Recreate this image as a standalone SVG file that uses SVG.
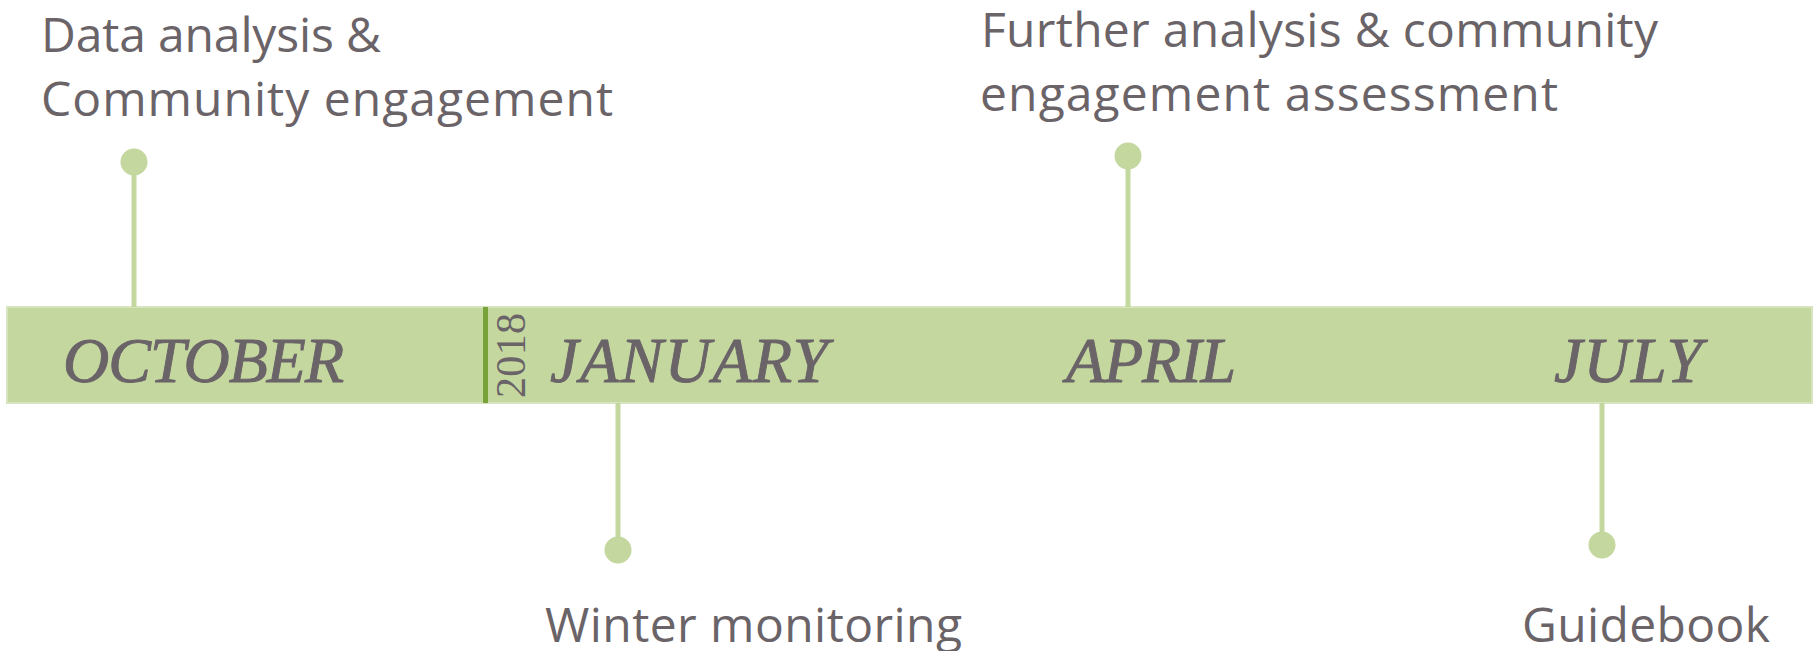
<svg xmlns="http://www.w3.org/2000/svg" width="1817" height="651" viewBox="0 0 1817 651">
<style>
.lbl{font-family:"Open Sans","Liberation Sans",sans-serif;font-size:48px;fill:#6a6368}
.mon{font-family:"Liberation Serif",serif;font-style:italic;font-size:64px;fill:#6a6368;stroke:#6a6368;stroke-width:0.9}
.yr{font-family:"Liberation Serif",serif;font-size:42px;fill:#6a6368}
.stem{stroke:#c4d79f;stroke-width:5;fill:none}
.dot{fill:#c4d79f}
</style>
<rect width="1817" height="651" fill="#ffffff"/>
<g id="bar">
<rect x="7" y="307" width="1805" height="96" fill="#c4d79f" stroke="#d6e4bf" stroke-width="2"/>
<rect x="483" y="307" width="5" height="96" fill="#77a33a"/>
<text class="yr" transform="translate(525,398) rotate(-90)" textLength="85">2018</text>
<text class="mon" x="63" y="382" textLength="281">OCTOBER</text>
<text class="mon" x="550" y="382" textLength="278">JANUARY</text>
<text class="mon" x="1066" y="382" textLength="170">APRIL</text>
<text class="mon" x="1554" y="382" textLength="148">JULY</text>
</g>
<g id="connectors">
<line class="stem" x1="134" y1="162" x2="134" y2="307"/>
<line class="stem" x1="618" y1="403" x2="618" y2="550"/>
<line class="stem" x1="1128" y1="156" x2="1128" y2="307"/>
<line class="stem" x1="1602" y1="403" x2="1602" y2="545"/>
</g>
<g id="node-oct">
<circle class="dot" cx="134" cy="162" r="13.5"/>
<text class="lbl" x="41" y="52" textLength="340">Data analysis &amp;</text>
<text class="lbl" x="41" y="116" textLength="572">Community engagement</text>
</g>
<g id="node-jan">
<circle class="dot" cx="618" cy="550" r="13.5"/>
<text class="lbl" x="545" y="642" textLength="417">Winter monitoring</text>
</g>
<g id="node-apr">
<circle class="dot" cx="1128" cy="156" r="13.5"/>
<text class="lbl" x="981" y="47" textLength="677">Further analysis &amp; community</text>
<text class="lbl" x="980" y="111" textLength="578">engagement assessment</text>
</g>
<g id="node-jul">
<circle class="dot" cx="1602" cy="545" r="13.5"/>
<text class="lbl" x="1522" y="642" textLength="248">Guidebook</text>
</g>
</svg>
